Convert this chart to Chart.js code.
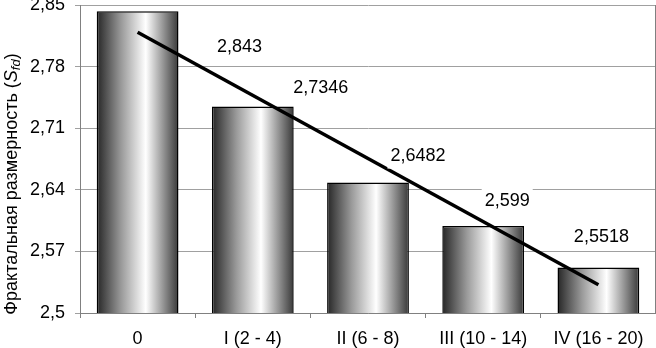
<!DOCTYPE html>
<html>
<head>
<meta charset="utf-8">
<script src="https://cdn.jsdelivr.net/npm/chart.js@4.4.0/dist/chart.umd.min.js"></script>
<style>
  html, body { margin: 0; padding: 0; background: #fff; }
  #wrap { width: 656px; height: 348px; }
</style>
</head>
<body>
<div id="wrap"><canvas id="fdChart"></canvas></div>
<script>
const categories = ['0', 'I (2 - 4)', 'II (6 - 8)', 'III (10 - 14)', 'IV (16 - 20)'];
const fractalDim = [2.843, 2.7346, 2.6482, 2.599, 2.5518];
const trendEnds = [2.819, null, null, null, 2.532];
const yTicks = [2.5, 2.57, 2.64, 2.71, 2.78, 2.85];

// where each value label sits, relative to the top centre of its bar (px)
const labelShift = [[102, 36], [68, -19], [50, -27], [24, -25], [3, -30]];

const FONT = "'Liberation Sans', Arial, sans-serif";
const BAR_PCT = 0.71;

function barGradient(c) {
    const chart = c.chart;
    const xs = chart.scales.x;
    if (!chart.chartArea || !xs || c.dataIndex === undefined) return '#999';
    const cx = xs.getPixelForValue(c.dataIndex);
    const half = xs.width / categories.length * BAR_PCT / 2;
    const g = chart.ctx.createLinearGradient(cx - half, 0, cx + half, 0);
    g.addColorStop(0, '#262626');
    g.addColorStop(0.3, '#9a9a9a');
    g.addColorStop(0.6, '#ffffff');
    g.addColorStop(1, '#383838');
    return g;
}

const valueLabels = {
    id: 'valueLabels',
    afterDatasetsDraw(chart) {
        const ctx = chart.ctx;
        const bars = chart.getDatasetMeta(0).data;
        ctx.save();
        ctx.font = '18px ' + FONT;
        ctx.textAlign = 'center';
        ctx.textBaseline = 'middle';
        bars.forEach((bar, i) => {
            const txt = String(fractalDim[i]).replace('.', ',');
            const x = bar.x + labelShift[i][0];
            const y = bar.y + labelShift[i][1];
            const w = ctx.measureText(txt).width;
            ctx.fillStyle = '#fff';
            ctx.fillRect(x - w / 2 - 3, y - 12, w + 6, 25);
            ctx.fillStyle = '#000';
            ctx.fillText(txt, x, y);
        });
        ctx.restore();
    }
};

const frameAndTitle = {
    id: 'frameAndTitle',
    beforeDatasetsDraw(chart) {
        const { ctx, chartArea } = chart;
        ctx.save();
        ctx.strokeStyle = '#808080';
        ctx.lineWidth = 1;
        ctx.beginPath();
        ctx.moveTo(chartArea.right - 0.5, chartArea.top);
        ctx.lineTo(chartArea.right - 0.5, chartArea.bottom);
        ctx.stroke();
        ctx.restore();
    },
    afterDraw(chart) {
        const ctx = chart.ctx;
        const parts = [
            { t: 'Фрактальная размерность (', f: '18px ' + FONT, dy: 0 },
            { t: 'S', f: 'italic 18px ' + FONT, dy: 0 },
            { t: 'fd', f: 'italic 13px ' + FONT, dy: 4 },
            { t: ')', f: '18px ' + FONT, dy: 0 }
        ];
        ctx.save();
        let total = 0;
        parts.forEach(p => { ctx.font = p.f; p.w = ctx.measureText(p.t).width; total += p.w; });
        ctx.translate(12, 184);
        ctx.rotate(-Math.PI / 2);
        ctx.fillStyle = '#000';
        ctx.textBaseline = 'middle';
        let x = -total / 2;
        parts.forEach(p => {
            ctx.font = p.f;
            ctx.fillText(p.t, x, p.dy);
            x += p.w;
        });
        ctx.restore();
    }
};

new Chart(document.getElementById('fdChart'), {
    type: 'bar',
    data: {
        labels: categories,
        datasets: [{
            type: 'bar',
            data: fractalDim,
            backgroundColor: barGradient,
            borderColor: '#000',
            borderWidth: 1.5,
            borderSkipped: false,
            categoryPercentage: 1,
            barPercentage: BAR_PCT,
            order: 2
        }, {
            type: 'line',
            data: trendEnds,
            spanGaps: true,
            borderColor: '#000',
            borderWidth: 3.5,
            pointRadius: 0,
            order: 1
        }]
    },
    options: {
        responsive: true,
        maintainAspectRatio: false,
        animation: false,
        layout: { padding: { top: 5, right: 0, left: 0, bottom: 0 } },
        plugins: {
            legend: { display: false },
            tooltip: { enabled: false }
        },
        scales: {
            x: {
                offset: true,
                grid: { offset: true, drawOnChartArea: false, color: '#808080', tickLength: 5 },
                border: { color: '#808080' },
                ticks: { color: '#000', font: { family: FONT, size: 18 }, padding: 10, maxRotation: 0 },
                afterFit(s) { s.height = 35; s.paddingLeft = 0; s.paddingRight = 0; }
            },
            y: {
                min: 2.5,
                max: 2.85,
                afterBuildTicks(s) { s.ticks = yTicks.map(v => ({ value: v })); },
                grid: { color: '#a0a0a0', tickLength: 5 },
                border: { color: '#808080' },
                ticks: {
                    color: '#000',
                    font: { family: FONT, size: 18 },
                    padding: 10,
                    callback: v => String(v).replace('.', ',')
                },
                afterFit(s) { s.width = 80; s.paddingTop = 0; s.paddingBottom = 0; }
            }
        }
    },
    plugins: [valueLabels, frameAndTitle]
});
</script>
</body>
</html>
